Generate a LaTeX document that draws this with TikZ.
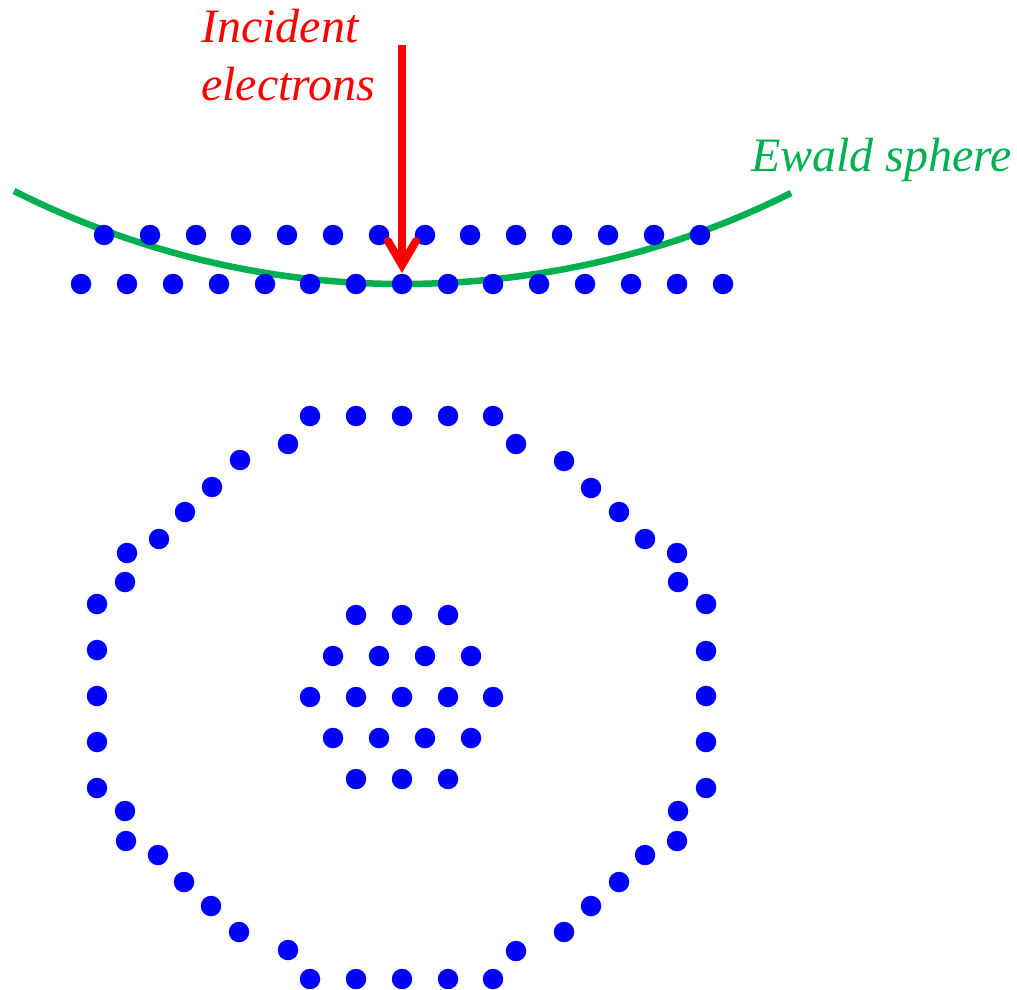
\documentclass[tikz,border=0pt]{standalone}
\usepackage{fontspec}
\setmainfont{Liberation Serif}
\definecolor{ewald}{HTML}{00B050}
\definecolor{spot}{HTML}{0000FF}
\definecolor{beam}{HTML}{FF0000}
\tikzset{
  spotdot/.style={fill=spot,draw=none,circle,minimum size=20.5pt,inner sep=0pt},
  lab/.style={font=\fontsize{48}{58}\selectfont\itshape,inner sep=0pt,align=left}
}
\newcommand{\spots}[1]{\foreach \px/\py in {#1}{\node[spotdot] at (\px,\py) {};}}
\begin{document}
\begin{tikzpicture}[x=1pt,y=-1pt]
\useasboundingbox (0,0) rectangle (1017,990);
% Ewald arc
\coordinate (ewaldstart) at (14,191);
\draw[ewald,line width=6.5pt] (ewaldstart) .. controls (134.5,251.6) and (267,284) .. (402,284) .. controls (537,284) and (670.5,253.6) .. (791,193);
% upper row
\spots{104/235,150/235,196/235,241/235,287/235,333/235,379/235,425/235,470/235,516/235,562/235,608/235,654/235,700/235}
% arrow
\coordinate (beamtop) at (402,45);
\coordinate (beamtip) at (402,265);
\coordinate (barbl) at (388,241);
\coordinate (barbr) at (416,241);
\draw[beam,line width=8pt] (beamtop) -- (beamtip);
\draw[beam,line width=8pt,line cap=round,line join=miter,miter limit=10] (barbl) -- (beamtip) -- (barbr);
% lower row
\spots{81/284,127/284,173/284,219/284,265/284,310/284,356/284,402/284,448/284,493/284,539/284,585/284,631/284,677/284,723/284}
% ring
\spots{310/416,356/416,402/416,448/416,493/416,516/444,564/461,591/488,619/512,645/539,677/553,678/582,706/604,706/651,706/696,706/742,706/788,678/811,677/841,645/855,619/882,591/906,564/932,516/951,493/979,448/979,402/979,356/979,310/979,288/950,239/932,211/906,184/882,158/855,126/841,125/811,97/788,97/742,97/696,97/650,97/604,125/582,127/553,159/539,185/512,212/487,240/460,288/444}
% inner
\spots{356/615,402/615,448/615,333/656,379/656,425/656,471/656,310/697,356/697,402/697,448/697,493/697,333/738,379/738,425/738,471/738,356/779,402/779,448/779}
\node[lab,text=beam,anchor=west] (incident) at (201,55) {Incident\\electrons};
\node[lab,text=ewald,anchor=west] (ewaldlabel) at (751,160) {Ewald sphere};
\end{tikzpicture}
\end{document}
